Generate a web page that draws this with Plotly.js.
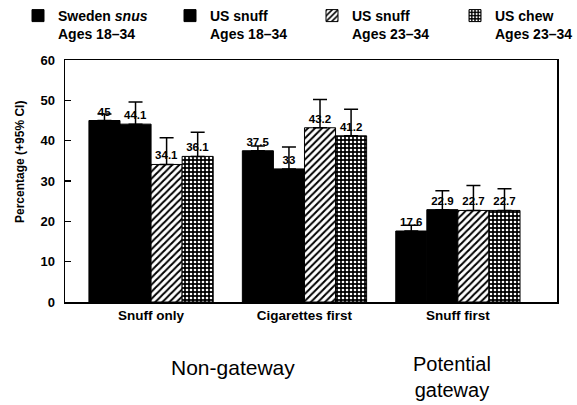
<!DOCTYPE html>
<html>
<head>
<meta charset="utf-8">
<script src="https://cdn.plot.ly/plotly-3.0.1.min.js"></script>
<style>html,body{margin:0;padding:0;background:#fff;}#chart{width:577px;height:405px;}</style>
</head>
<body>
<div id="chart"></div>
<script>
var categories = ["Snuff only", "Cigarettes first", "Snuff first"];
var seriesNames = ["Sweden <i>snus</i><br>Ages 18\u201334", "US snuff<br>Ages 18\u201334", "US snuff<br>Ages 23\u201334", "US chew<br>Ages 23\u201334"];
var swedenSnus = [45, 37.5, 17.6];
var usSnuff1834 = [44.1, 33, 22.9];
var usSnuff2334 = [34.1, 43.2, 22.7];
var usChew2334 = [36.1, 41.2, 22.7];
var swedenSnusCI = [1.6, 1.2, 1.4];
var usSnuff1834CI = [5.5, 5.4, 4.7];
var usSnuff2334CI = [6.6, 7.0, 6.2];
var usChew2334CI = [6.0, 6.6, 5.4];
var groupLabels = ["Non-gateway", "Potential<br>gateway"];
var yTitle = "Percentage (+95% CI)";

var values = [swedenSnus, usSnuff1834, usSnuff2334, usChew2334];
var cis = [swedenSnusCI, usSnuff1834CI, usSnuff2334CI, usChew2334CI];
var patterns = [
  {shape: ""},
  {shape: ""},
  {shape: "/", bgcolor: "#ffffff", fgcolor: "#000000", size: 5, solidity: 0.4},
  {shape: ".", bgcolor: "#000000", fgcolor: "#ffffff", size: 4, solidity: 0.35}
];
var legendIds = ["legend", "legend2", "legend3", "legend4"];
var legendX = [18, 170, 312, 455];

var traces = values.map(function (v, i) {
  return {
    type: "bar",
    name: seriesNames[i],
    legend: legendIds[i],
    x: categories,
    y: v,
    text: v.map(String),
    textposition: "outside",
    cliponaxis: false,
    textfont: {family: "Liberation Sans, Arial, sans-serif", size: 11.5, color: "#000", weight: "bold"},
    marker: {color: "#000000", line: {color: "#000000", width: 1}, pattern: patterns[i]},
    error_y: {type: "data", symmetric: false, array: cis[i], arrayminus: v.map(function(){return 0;}), color: "#000", thickness: 1.5, width: 7},
    hoverinfo: "none"
  };
});

var layout = {
  width: 577, height: 405,
  margin: {l: 65, r: 20, t: 60, b: 103},
  paper_bgcolor: "#fff", plot_bgcolor: "#fff",
  font: {family: "Liberation Sans, Arial, sans-serif", color: "#000"},
  barmode: "group",
  bargap: 0.19,
  bargroupgap: 0,
  showlegend: true,
  xaxis: {
    type: "category", range: [-0.561, 2.646],
    showline: true, linecolor: "#000", linewidth: 1.5, mirror: true,
    ticks: "", tickfont: {size: 13.5, color: "#000", weight: "bold"}, showgrid: false, zeroline: false
  },
  yaxis: {
    range: [0, 60], dtick: 10, tick0: 0,
    showline: true, linecolor: "#000", linewidth: 1.5, mirror: true,
    ticks: "inside", ticklen: 6, tickwidth: 1.2, tickcolor: "#000",
    ticklabelstandoff: 6,
    tickfont: {size: 13, color: "#000", weight: "bold"},
    showgrid: false, zeroline: false
  },
  annotations: [
    {text: yTitle, xref: "paper", yref: "paper", x: (20 - 65) / 492, y: (302 - 162) / 242, xanchor: "center", yanchor: "middle", textangle: -90, showarrow: false, font: {size: 12, color: "#000", weight: "bold"}},
    {text: groupLabels[0], xref: "paper", yref: "paper", x: (232.5 - 65) / 492, y: (302 - 367) / 242, xanchor: "center", yanchor: "middle", showarrow: false, font: {size: 21, color: "#000"}},
    {text: groupLabels[1], xref: "paper", yref: "paper", x: (452 - 65) / 492, y: (302 - 377) / 242, xanchor: "center", yanchor: "middle", showarrow: false, font: {size: 20, color: "#000"}}
  ]
};
legendIds.forEach(function (id, i) {
  layout[id] = {
    orientation: "h", xref: "container", yref: "container",
    x: legendX[i] / 577, y: 1.0, xanchor: "left", yanchor: "top",
    valign: "top", bgcolor: "rgba(0,0,0,0)",
    font: {size: 14, color: "#000", weight: "bold"}, itemclick: false, itemdoubleclick: false
  };
});

Plotly.newPlot("chart", traces, layout, {displayModeBar: false, staticPlot: true});
</script>
</body>
</html>
